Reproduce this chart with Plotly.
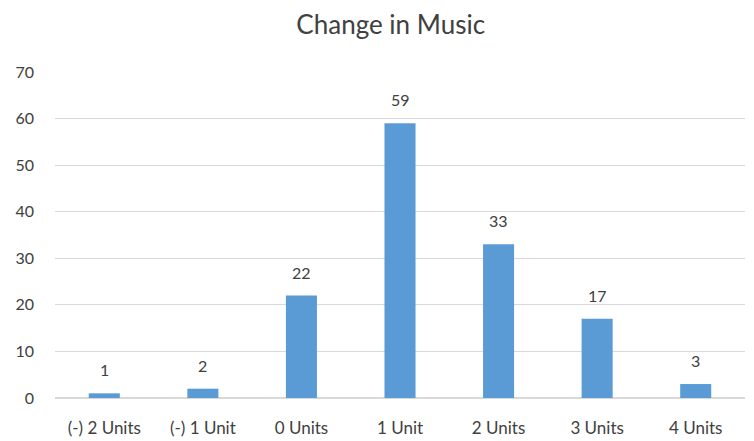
import plotly.graph_objects as go

categories = ["(-) 2 Units", "(-) 1 Unit", "0 Units", "1 Unit", "2 Units", "3 Units", "4 Units"]
counts = [1, 2, 22, 59, 33, 17, 3]
y_ticks = [0, 10, 20, 30, 40, 50, 60, 70]

fig = go.Figure()
fig.add_trace(go.Bar(
    x=categories,
    y=counts,
    marker_color="#5B9BD5",
    marker_line_width=0,
))

# value labels sit a bit higher above the bars than plotly's "outside" text
for cat, val in zip(categories, counts):
    fig.add_annotation(x=cat, y=val, text=str(val), showarrow=False,
                       yanchor="bottom", yshift=12,
                       font=dict(size=16, color="#404040"))

# page has an 8px body margin, so the figure is sized to fit the window
fig.update_layout(
    width=746, height=433,
    margin=dict(l=47, r=9, t=64, b=43),
    paper_bgcolor="white",
    plot_bgcolor="white",
    font=dict(family="Lato, Open Sans, sans-serif", size=16, color="#404040"),
    title=dict(text="Change in Music", x=0.513, xanchor="center", y=0.96, yanchor="middle",
               font=dict(size=26, color="#404040")),
    bargap=0.685,
    showlegend=False,
)
fig.update_xaxes(showgrid=False, showline=False, ticks="", tickfont=dict(size=17),
                 ticklabelstandoff=18, automargin=False)
fig.update_yaxes(range=[0, 70], tickvals=y_ticks, showgrid=True, gridcolor="#D9D9D9",
                 gridwidth=1, zeroline=True, zerolinecolor="#D9D9D9", ticks="",
                 ticklabelstandoff=20, tickfont=dict(size=16), automargin=False)

fig.write_html("out.html")
